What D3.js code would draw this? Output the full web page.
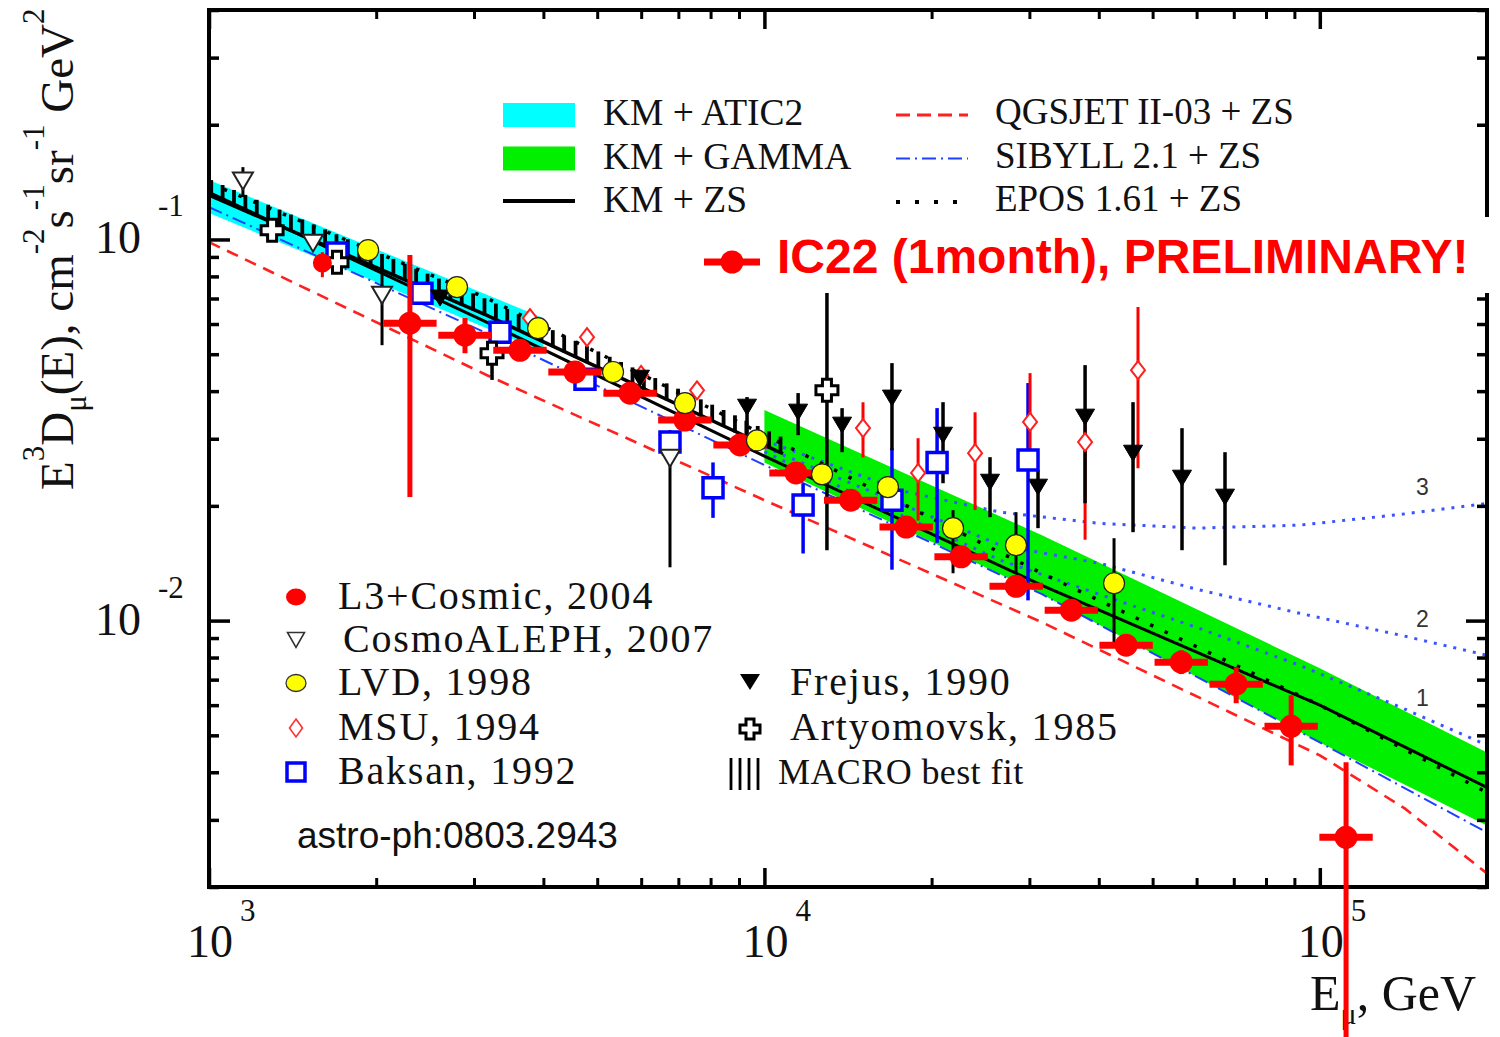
<!DOCTYPE html>
<html>
<head>
<meta charset="utf-8">
<script src="https://cdn.jsdelivr.net/npm/d3@7/dist/d3.min.js"></script>
<style>
html,body{margin:0;padding:0;background:#fff;}
svg{display:block;}
</style>
</head>
<body>
<svg id="chart" width="1500" height="1037" xmlns="http://www.w3.org/2000/svg"></svg>
<script>
// ---------------- DATA ----------------
const xTickMajor  = [1e3, 1e4, 1e5];
const xTickLabels = ["3", "4", "5"];
const yTickMajor  = [0.1, 0.01];
const yTickLabels = ["-1", "-2"];

// model bands
const atic2E  = [1000, 2000, 4000];
const atic2Hi = [0.1432, 0.0943, 0.0622];
const atic2Lo = [0.1173, 0.0773, 0.0507];
const gammaE  = [1e4, 3.16e4, 1e5, 2e5];
const gammaHi = [0.0357, 0.01675, 0.0075, 0.00451];
const gammaLo = [0.0260, 0.01173, 0.00479, 0.00290];

// model curves
const modelE = [1e3, 3.16e3, 1e4, 3.16e4, 1e5, 2e5];
const kmZS   = [0.133, 0.0607, 0.0270, 0.01238, 0.0060, 0.00365];
const sibyll = [0.1216, 0.0568, 0.0256, 0.01173, 0.00479, 0.00278];
const epos   = [0.1405, 0.0702, 0.0307, 0.01331, 0.0060, 0.00354];
const qgsE   = [1e3, 3.16e3, 1e4, 3.16e4, 1e5, 1.42e5, 2e5];
const qgsjet = [0.0984, 0.0441, 0.0207, 0.0099, 0.00443, 0.00322, 0.00217];
const macroE = [1e3, 3.16e3, 1.08e4];
const macro  = [0.1307, 0.0633, 0.0274];

// prompt-contribution curves 1, 2, 3
const promptE = [1e4, 1.78e4, 2.66e4, 4e4, 6e4, 9.2e4, 1.4e5, 2e5];
const prompt1 = [0.0277, 0.0188, 0.0144, 0.01173, 0.0096, 0.00763, 0.00592, 0.00471];
const prompt2 = [0.0285, 0.0201, 0.01577, 0.01415, 0.01209, 0.01045, 0.00915, 0.00811];
const prompt3 = [0.0297, 0.02185, 0.01925, 0.0180, 0.01748, 0.0178, 0.0190, 0.0203];
const promptLabels = ["1", "2", "3"];
const promptLabelE = 1.53e5;
const promptLabelV = [0.00625, 0.01008, 0.0224];

// IC22 (1 month)
const ic22E  = [2300, 2890, 3630, 4560, 5730, 7190, 9040, 11400, 14300, 18000, 22600, 28400, 35700, 44800, 56300, 70700, 88800, 111500];
const ic22V  = [0.0603, 0.0561, 0.0512, 0.0449, 0.0395, 0.0336, 0.0289, 0.0244, 0.0207, 0.0176, 0.0147, 0.0123, 0.01065, 0.00862, 0.00778, 0.00681, 0.00528, 0.00270];
const ic22Hi = [0.0910, 0.0622, 0.0535, 0.0468, 0.0411, 0.0350, 0.0300, 0.0254, 0.0215, 0.0183, 0.0153, 0.0128, 0.0111, 0.0090, 0.00836, 0.00754, 0.00637, 0.00425];
const ic22Lo = [0.0211, 0.0503, 0.0490, 0.0430, 0.0379, 0.0322, 0.0278, 0.0234, 0.0199, 0.0169, 0.0141, 0.0118, 0.0102, 0.0083, 0.00724, 0.00607, 0.00417, 0.0008];
const ic22BinFactor = 1.117;

// L3+Cosmic 2004
const l3E  = [1600];
const l3V  = [0.0867];
const l3Hi = [0.0926];
const l3Lo = [0.0796];

// CosmoALEPH 2007
const aleE  = [1151, 1539, 2049, 6761];
const aleV  = [0.1423, 0.0978, 0.0714, 0.02667];
const aleHi = [0.1548, null, 0.0856, 0.0316];
const aleLo = [0.1292, null, 0.0528, 0.0138];

// Frejus 1990
const frE  = [2606, 5970, 9305, 11500, 13800, 16970, 20970, 25480, 31090, 37790, 46100, 56480, 67500];
const frV  = [0.0702, 0.04325, 0.0363, 0.03523, 0.03257, 0.03835, 0.03065, 0.02307, 0.02239, 0.03418, 0.02749, 0.02364, 0.02108];
const frHi = [null, null, 0.03859, 0.03953, 0.03609, 0.04738, 0.03742, 0.02684, 0.02481, 0.04681, 0.03742, 0.03198, 0.02766];
const frLo = [null, null, 0.03029, 0.03065, 0.02766, 0.02799, 0.02293, 0.01868, 0.01748, 0.02032, 0.01706, 0.0153, 0.01397];

// Artyomovsk 1985
const artE  = [1299, 1700, 3233, 12960];
const artV  = [0.1058, 0.0872, 0.0503, 0.0402];
const artHi = [null, null, 0.0561, 0.0736];
const artLo = [null, null, 0.0428, 0.0153];

// LVD 1998
const lvdE  = [1934, 2796, 3913, 5339, 7194, 9698, 12700, 16690, 21860, 28380, 42610];
const lvdV  = [0.0938, 0.0750, 0.0585, 0.0449, 0.0372, 0.0297, 0.0242, 0.0224, 0.01748, 0.01577, 0.01253];
const lvdHi = [null, null, null, null, null, null, null, null, 0.01949, 0.01925, 0.01645];
const lvdLo = [null, null, null, null, null, null, null, null, 0.01331, 0.01331, 0.00872];

// MSU 1994
const msuE  = [3784, 4793, 5997, 7563, 15050, 18910, 23950, 30080, 37790, 47060];
const msuV  = [0.0622, 0.0554, 0.0441, 0.0402, 0.0320, 0.0244, 0.0275, 0.0332, 0.0294, 0.0454];
const msuHi = [null, null, null, null, 0.0374, 0.0301, 0.0352, 0.0446, 0.0345, 0.0665];
const msuLo = [null, null, null, null, 0.0268, 0.0183, 0.0195, 0.0248, 0.0163, 0.0251];

// Baksan 1992
const bakE  = [1700, 2418, 3342, 4753, 6761, 8081, 11740, 16970, 20460, 29830];
const bakV  = [0.0921, 0.0723, 0.0571, 0.0430, 0.0294, 0.0223, 0.0201, 0.0207, 0.0260, 0.0264];
const bakHi = [null, null, null, null, null, 0.0260, 0.0229, 0.0283, 0.0361, 0.0420];
const bakLo = [null, null, null, null, null, 0.0186, 0.0150, 0.0136, 0.0160, 0.0113];

const legendTop = [
  {label: "KM + ATIC2", kind: "band", color: "#00ffff"},
  {label: "KM + GAMMA", kind: "band", color: "#00f000"},
  {label: "KM + ZS", kind: "solid", color: "#000"}
];
const legendTop2 = [
  {label: "QGSJET II-03 + ZS", color: "#ff2020", dash: "14,7", w: 3},
  {label: "SIBYLL 2.1 + ZS", color: "#2040ff", dash: "14,5,2,5", w: 2},
  {label: "EPOS 1.61 + ZS", color: "#000", dash: "4,15", w: 4}
];
const lowLabels = ["L3+Cosmic, 2004", "CosmoALEPH, 2007", "LVD, 1998", "MSU, 1994", "Baksan, 1992"];

// ---------------- SETUP ----------------
const svg = d3.select("#chart");
const X0 = 209, X1 = 1487, Y0 = 10, Y1 = 887;
const x = d3.scaleLog().domain([1e3, 2e5]).range([X0, X1]);
const y = d3.scaleLog().domain([0.002, 0.4]).range([Y1, Y0]);
const SERIF = "'Liberation Serif','Times New Roman',Times,serif";
const SANS = "'Liberation Sans',Arial,Helvetica,sans-serif";

svg.append("defs").append("clipPath").attr("id", "clip")
  .append("rect").attr("x", X0).attr("y", Y0).attr("width", X1 - X0).attr("height", Y1 - Y0);
const clipped = svg.append("g").attr("clip-path", "url(#clip)");

const areaGen = (E, lo, hi) => d3.area().x((d, i) => x(E[i])).y0((d, i) => y(lo[i])).y1((d, i) => y(hi[i]))(E);
const lineGen = (E, v) => d3.line().x((d, i) => x(E[i])).y(d => y(d))(v);

// bands
clipped.append("path").attr("d", areaGen(atic2E, atic2Lo, atic2Hi)).attr("fill", "#00ffff");
clipped.append("path").attr("d", areaGen(gammaE, gammaLo, gammaHi)).attr("fill", "#00f000");

function curve(E, v, stroke, w, dash) {
  clipped.append("path").attr("d", lineGen(E, v)).attr("fill", "none")
    .attr("stroke", stroke).attr("stroke-width", w).attr("stroke-dasharray", dash || null);
}
curve(qgsE, qgsjet, "#ff2020", 2.6, "12,8");
curve(modelE, sibyll, "#2040ff", 2, "14,5,2,5");
curve(promptE, prompt1, "#3a55ff", 3, "3,7");
curve(promptE, prompt2, "#3a55ff", 3, "3,7");
curve(promptE, prompt3, "#3a55ff", 3, "3,7");
curve(modelE, kmZS, "#000", 3);
curve(modelE, epos, "#000", 3.5, "3.5,12.5");

// MACRO best fit comb
curve(macroE, macro, "#000", 3.5);
const macroPix = d3.scaleLinear().domain(macroE.map(d => x(d))).range(macro.map(d => y(d)));
const combLogE = d3.range(3.004, Math.log10(macroE[2]), 0.0205);
clipped.append("g").selectAll("line").data(combLogE).join("line")
  .attr("x1", d => x(Math.pow(10, d))).attr("x2", d => x(Math.pow(10, d)))
  .attr("y1", d => macroPix(x(Math.pow(10, d))) + 1).attr("y2", d => macroPix(x(Math.pow(10, d))) - 16)
  .attr("stroke", "#000").attr("stroke-width", 3.8);

// ---------------- AXES ----------------
const isMajor = v => Math.abs(Math.log10(v) - Math.round(Math.log10(v))) < 1e-9;
const xMinor = x.ticks().filter(v => !isMajor(v));
const yMinor = y.ticks().filter(v => !isMajor(v));
function axis(gen, vals, size, tr, w) {
  svg.append("g").attr("transform", tr)
    .call(gen.tickValues(vals).tickSize(size).tickFormat(() => ""))
    .call(g => { g.select(".domain").remove(); g.selectAll("text").remove();
      g.selectAll("line").attr("stroke", "#000").attr("stroke-width", w); });
}
axis(d3.axisBottom(x), xMinor, -9, `translate(0,${Y1})`, 3);
axis(d3.axisBottom(x), xTickMajor, -19, `translate(0,${Y1})`, 3.5);
axis(d3.axisTop(x), xMinor, -9, `translate(0,${Y0})`, 3);
axis(d3.axisTop(x), xTickMajor, -19, `translate(0,${Y0})`, 3.5);
axis(d3.axisLeft(y), yMinor, -10, `translate(${X0},0)`, 3.5);
axis(d3.axisLeft(y), yTickMajor, -21, `translate(${X0},0)`, 3.5);
axis(d3.axisRight(y), yMinor, -10, `translate(${X1},0)`, 3.5);
axis(d3.axisRight(y), yTickMajor, -21, `translate(${X1},0)`, 3.5);

svg.append("rect").attr("x", X0).attr("y", Y0).attr("width", X1 - X0).attr("height", Y1 - Y0)
  .attr("fill", "none").attr("stroke", "#000").attr("stroke-width", 4);

// tick labels
xTickMajor.forEach((v, i) => {
  svg.append("text").attr("x", x(v) - 22).attr("y", 957).attr("font-family", SERIF).attr("font-size", 46).attr("fill", "#111").text("10");
  svg.append("text").attr("x", x(v) + 31).attr("y", 921).attr("font-family", SERIF).attr("font-size", 31).attr("fill", "#111").text(xTickLabels[i]);
});
yTickMajor.forEach((v, i) => {
  svg.append("text").attr("x", 141).attr("y", y(v) + 14).attr("text-anchor", "end").attr("font-family", SERIF).attr("font-size", 46).attr("fill", "#111").text("10");
  svg.append("text").attr("x", 158).attr("y", y(v) - 23).attr("font-family", SERIF).attr("font-size", 31).attr("fill", "#111").text(yTickLabels[i]);
});

function rich(sel, parts, main, small, supShift, subShift) {
  let cur = 0;
  parts.forEach(p => {
    const off = p.sup ? -supShift : (p.sub ? subShift : 0);
    sel.append("tspan").attr("dy", off - cur).attr("font-size", (p.sup || p.sub) ? small : main).text(p.t);
    cur = off;
  });
}
// axis titles
const xt = svg.append("text").attr("x", 1310).attr("y", 1010).attr("font-family", SERIF).attr("fill", "#111");
rich(xt, [{t: "E"}, {t: "\u03bc", sub: true}, {t: ", GeV"}], 50, 30, 0, 14);
const yt = svg.append("text").attr("transform", "translate(73,490) rotate(-90)").attr("font-family", SERIF).attr("fill", "#111");
rich(yt, [{t: "E"}, {t: "3", sup: true}, {t: "D"}, {t: "\u03bc", sub: true}, {t: "(E), cm"}, {t: "-2", sup: true},
  {t: "s"}, {t: "-1", sup: true}, {t: "sr"}, {t: "-1", sup: true}, {t: " GeV"}, {t: "2", sup: true}], 47, 31, 29, 13);

// prompt labels
promptLabels.forEach((t, i) => {
  svg.append("text").attr("x", x(promptLabelE)).attr("y", y(promptLabelV[i])).attr("dy", "0.35em")
    .attr("text-anchor", "middle").attr("font-family", SANS).attr("font-size", 23).attr("fill", "#333").text(t);
});

// ---------------- MARKERS ----------------
const shape = {
  triDown: (w, h) => `M${-w / 2},${-h / 2}L${w / 2},${-h / 2}L0,${h / 2}Z`,
  diamond: (w, h) => `M0,${-h / 2}L${w / 2},0L0,${h / 2}L${-w / 2},0Z`,
  square: s => `M${-s / 2},${-s / 2}h${s}v${s}h${-s}Z`,
  cross: (a, b) => `M${-b},${-a}H${b}V${-b}H${a}V${b}H${b}V${a}H${-b}V${b}H${-a}V${-b}H${-b}Z`
};
const pts = svg.append("g");
function errBars(E, hi, lo, color, w) {
  const idx = E.map((d, i) => i).filter(i => hi[i] != null);
  pts.append("g").selectAll("line").data(idx).join("line")
    .attr("x1", i => x(E[i])).attr("x2", i => x(E[i]))
    .attr("y1", i => y(hi[i])).attr("y2", i => y(lo[i]))
    .attr("stroke", color).attr("stroke-width", w);
}
function markers(E, V, d, fill, stroke, sw) {
  pts.append("g").selectAll("path").data(E).join("path")
    .attr("transform", (e, i) => `translate(${x(e)},${y(V[i])})`)
    .attr("d", d).attr("fill", fill).attr("stroke", stroke).attr("stroke-width", sw);
}

errBars(bakE, bakHi, bakLo, "#0000ff", 3.5);
errBars(msuE, msuHi, msuLo, "#ff0000", 3);
errBars(frE, frHi, frLo, "#000", 3.5);
errBars(artE, artHi, artLo, "#000", 3.5);
errBars(aleE, aleHi, aleLo, "#000", 3);
errBars(lvdE, lvdHi, lvdLo, "#000", 3);

markers(bakE, bakV, shape.square(20), "#fff", "#0000ff", 3.5);
markers(msuE, msuV, shape.diamond(14, 18), "#fff", "#ff2020", 2);
markers(frE, frV, shape.triDown(19, 16), "#000", "#000", 1);
markers(artE, artV, shape.cross(11, 4.5), "#fff", "#000", 3);
markers(aleE, aleV, shape.triDown(20, 17), "#fff", "#222", 2);

// IC22
const ic = pts.append("g");
ic.selectAll("line.h").data(ic22E).join("line").attr("class", "h")
  .attr("x1", d => x(d / ic22BinFactor)).attr("x2", d => x(d * ic22BinFactor))
  .attr("y1", (d, i) => y(ic22V[i])).attr("y2", (d, i) => y(ic22V[i]))
  .attr("stroke", "#ff0000").attr("stroke-width", 7);
ic.selectAll("line.v").data(ic22E).join("line").attr("class", "v")
  .attr("x1", d => x(d)).attr("x2", d => x(d))
  .attr("y1", (d, i) => y(ic22Hi[i])).attr("y2", (d, i) => y(ic22Lo[i]))
  .attr("stroke", "#ff0000").attr("stroke-width", 5);
ic.selectAll("circle").data(ic22E).join("circle")
  .attr("cx", d => x(d)).attr("cy", (d, i) => y(ic22V[i])).attr("r", 11.5).attr("fill", "#ff0000");

// L3
errBars(l3E, l3Hi, l3Lo, "#ff0000", 3);
pts.append("g").selectAll("circle").data(l3E).join("circle")
  .attr("cx", d => x(d)).attr("cy", (d, i) => y(l3V[i])).attr("r", 9.5).attr("fill", "#ff0000");

// LVD
pts.append("g").selectAll("circle").data(lvdE).join("circle")
  .attr("cx", d => x(d)).attr("cy", (d, i) => y(lvdV[i])).attr("r", 10.5)
  .attr("fill", "#ffff00").attr("stroke", "#222").attr("stroke-width", 1.2);

// ---------------- LEGENDS ----------------
const lg = svg.append("g");
legendTop.forEach((d, i) => {
  const cy = 115 + i * 43.5;
  if (d.kind === "band") lg.append("rect").attr("x", 503).attr("y", cy - 12).attr("width", 72).attr("height", 24).attr("fill", d.color);
  else lg.append("line").attr("x1", 503).attr("x2", 575).attr("y1", cy - 1).attr("y2", cy - 1).attr("stroke", d.color).attr("stroke-width", 4);
  lg.append("text").attr("x", 603).attr("y", cy + 10).attr("font-family", SERIF).attr("font-size", 37.5).attr("fill", "#111").text(d.label);
});
legendTop2.forEach((d, i) => {
  const cy = 115 + i * 43.5;
  lg.append("line").attr("x1", 896).attr("x2", 968).attr("y1", cy).attr("y2", cy)
    .attr("stroke", d.color).attr("stroke-width", d.w).attr("stroke-dasharray", d.dash);
  lg.append("text").attr("x", 995).attr("y", cy + 9).attr("font-family", SERIF).attr("font-size", 37).attr("fill", "#111").text(d.label);
});

// IC22 legend with background box
lg.append("rect").attr("x", 700).attr("y", 217).attr("width", 795).attr("height", 76).attr("fill", "#fff");
lg.append("line").attr("x1", 704).attr("x2", 760).attr("y1", 262).attr("y2", 262).attr("stroke", "#ff0000").attr("stroke-width", 7);
lg.append("circle").attr("cx", 732).attr("cy", 262).attr("r", 11.5).attr("fill", "#ff0000");
lg.append("text").attr("x", 777).attr("y", 273).attr("font-family", SANS).attr("font-weight", "bold")
  .attr("font-size", 48).attr("fill", "#ff0000").text("IC22 (1month), PRELIMINARY!");

// lower legend
const LF = 40, LS = 1.8;
const rowsY = [597, 640, 683, 728, 772];
lg.append("ellipse").attr("cx", 296).attr("cy", rowsY[0]).attr("rx", 10).attr("ry", 8.5).attr("fill", "#ff0000");
lg.append("path").attr("transform", `translate(296,${rowsY[1]})`).attr("d", shape.triDown(17, 15)).attr("fill", "#fff").attr("stroke", "#333").attr("stroke-width", 1.6);
lg.append("ellipse").attr("cx", 296).attr("cy", rowsY[2]).attr("rx", 10).attr("ry", 8.5).attr("fill", "#ffff00").attr("stroke", "#333").attr("stroke-width", 1.3);
lg.append("path").attr("transform", `translate(296,${rowsY[3]})`).attr("d", shape.diamond(13, 18)).attr("fill", "#fff").attr("stroke", "#ff3030").attr("stroke-width", 1.6);
lg.append("path").attr("transform", `translate(296,${rowsY[4]})`).attr("d", shape.square(18)).attr("fill", "#fff").attr("stroke", "#0000ff").attr("stroke-width", 3.5);
lowLabels.forEach((t, i) => {
  lg.append("text").attr("x", i === 1 ? 343 : 338).attr("y", rowsY[i] + 12).attr("font-family", SERIF)
    .attr("font-size", LF).attr("letter-spacing", LS).attr("fill", "#111").text(t);
});
lg.append("path").attr("transform", `translate(750,${rowsY[2] - 1})`).attr("d", shape.triDown(20, 16)).attr("fill", "#000");
lg.append("path").attr("transform", `translate(750,${rowsY[3] + 1})`).attr("d", shape.cross(10, 4)).attr("fill", "#fff").attr("stroke", "#000").attr("stroke-width", 3);
[731, 740, 749, 758].forEach(xx => lg.append("line").attr("x1", xx).attr("x2", xx).attr("y1", 758).attr("y2", 790).attr("stroke", "#000").attr("stroke-width", 2.8));
lg.append("text").attr("x", 790).attr("y", rowsY[2] + 12).attr("font-family", SERIF).attr("font-size", LF).attr("letter-spacing", LS).attr("fill", "#111").text("Frejus, 1990");
lg.append("text").attr("x", 790).attr("y", rowsY[3] + 12).attr("font-family", SERIF).attr("font-size", LF).attr("letter-spacing", LS).attr("fill", "#111").text("Artyomovsk, 1985");
lg.append("text").attr("x", 778).attr("y", 784).attr("font-family", SERIF).attr("font-size", 36).attr("letter-spacing", 0.4).attr("fill", "#111").text("MACRO best fit");
lg.append("text").attr("x", 297).attr("y", 848).attr("font-family", SANS).attr("font-size", 37).attr("fill", "#111").text("astro-ph:0803.2943");
</script>
</body>
</html>
